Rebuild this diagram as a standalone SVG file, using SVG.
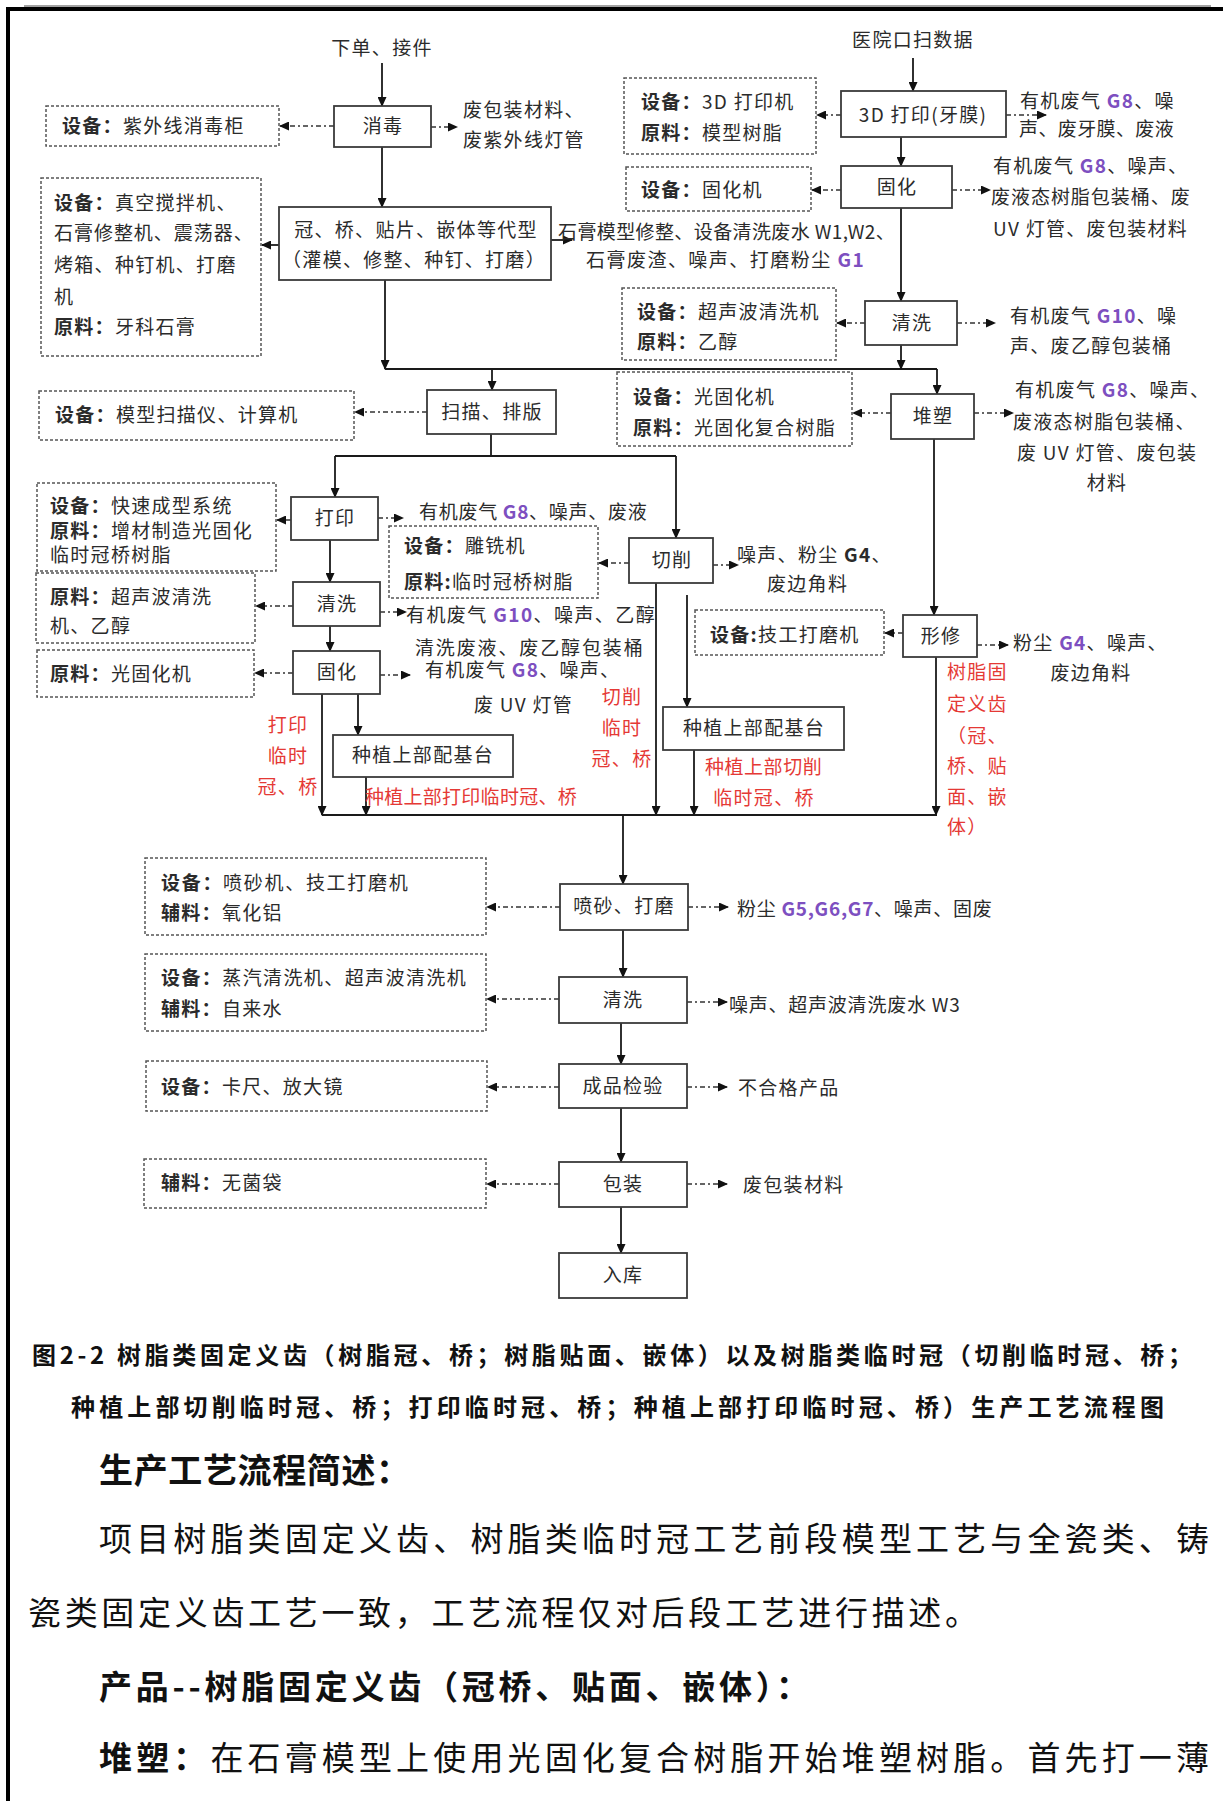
<svg xmlns="http://www.w3.org/2000/svg" width="1223" height="1801" viewBox="0 0 1223 1801">
<style>
.t{font-family:"Noto Sans CJK SC","Noto Sans",sans-serif;font-size:19px;letter-spacing:1.3px;fill:#2b2b2b}
.c{text-anchor:middle}
.b{font-weight:bold}
.r{fill:#e53935}
.p{fill:#7d4fc0;font-weight:bold}
.box{fill:#fff;stroke:#3a3a3a;stroke-width:1.8}
.dbox{fill:none;stroke:#555;stroke-width:1.5;stroke-dasharray:3 2}
.ln{fill:none;stroke:#1a1a1a;stroke-width:1.8}
.ar{fill:none;stroke:#1a1a1a;stroke-width:1.8;marker-end:url(#ah)}
.dd{fill:none;stroke:#333;stroke-width:1.6;stroke-dasharray:5 3 2 3;marker-end:url(#ah)}
.cap{font-family:"Noto Sans CJK SC","Noto Sans",sans-serif;font-weight:bold;fill:#111}
.para{font-family:"Noto Sans CJK SC","Noto Sans",sans-serif;fill:#111}
</style>
<defs>
<marker id="ah" markerWidth="10" markerHeight="9" refX="9" refY="4.5" orient="auto" markerUnits="userSpaceOnUse">
<path d="M0,0 L10,4.5 L0,9 z" fill="#111"/>
</marker>
</defs>
<rect x="0" y="0" width="1223" height="1801" fill="#fff"/>
<!-- page frame -->
<line x1="24" y1="6" x2="1211" y2="6" stroke="#444" stroke-width="1"/>
<rect x="6" y="7" width="1217" height="4" fill="#000"/>
<rect x="6" y="7" width="4" height="1794" fill="#000"/>

<g id="connectors">
<line class="ar" x1="382" y1="63" x2="382" y2="106"/>
<line class="ar" x1="382" y1="147" x2="382" y2="207"/>
<line class="ar" x1="551" y1="240" x2="572" y2="240"/>
<line class="ar" x1="279" y1="245" x2="262" y2="245"/>
<line class="ar" x1="385" y1="280" x2="385" y2="369"/>
<line class="ln" x1="385" y1="369" x2="937" y2="369"/>
<line class="ar" x1="492" y1="369" x2="492" y2="390"/>
<line class="ar" x1="937" y1="369" x2="937" y2="394"/>
<line class="ar" x1="913" y1="58" x2="913" y2="91"/>
<line class="ar" x1="901" y1="137" x2="901" y2="166"/>
<line class="ar" x1="901" y1="208" x2="901" y2="301"/>
<line class="ar" x1="901" y1="345" x2="901" y2="369"/>
<line class="ln" x1="491" y1="434" x2="491" y2="456"/>
<line class="ln" x1="335" y1="456" x2="676" y2="456"/>
<line class="ar" x1="335" y1="456" x2="335" y2="497"/>
<line class="ar" x1="676" y1="456" x2="676" y2="538"/>
<line class="ar" x1="330" y1="540" x2="330" y2="582"/>
<line class="ar" x1="330" y1="626" x2="330" y2="651"/>
<line class="ar" x1="322" y1="694" x2="322" y2="815"/>
<line class="ar" x1="358" y1="694" x2="358" y2="735"/>
<line class="ar" x1="366" y1="777" x2="366" y2="815"/>
<line class="ar" x1="656" y1="583" x2="656" y2="815"/>
<line class="ar" x1="687" y1="595" x2="687" y2="707"/>
<line class="ar" x1="694" y1="750" x2="694" y2="815"/>
<line class="ar" x1="934" y1="439" x2="934" y2="615"/>
<line class="ar" x1="936" y1="657" x2="936" y2="815"/>
<line class="ln" x1="322" y1="815" x2="937" y2="815"/>
<line class="ar" x1="623" y1="815" x2="623" y2="884"/>
<line class="ar" x1="623" y1="930" x2="623" y2="977"/>
<line class="ar" x1="621" y1="1023" x2="621" y2="1064"/>
<line class="ar" x1="621" y1="1108" x2="621" y2="1162"/>
<line class="ar" x1="621" y1="1207" x2="621" y2="1253"/>
<!-- dash-dot side arrows -->
<line class="dd" x1="334" y1="126" x2="280" y2="126"/>
<line class="dd" x1="431" y1="127" x2="457" y2="127"/>
<line class="dd" x1="841" y1="115" x2="817" y2="115"/>
<line class="dd" x1="1006" y1="115" x2="1046" y2="115"/>
<line class="dd" x1="841" y1="190" x2="812" y2="190"/>
<line class="dd" x1="952" y1="190" x2="990" y2="190"/>
<line class="dd" x1="865" y1="323" x2="837" y2="323"/>
<line class="dd" x1="957" y1="323" x2="995" y2="323"/>
<line class="dd" x1="427" y1="412" x2="355" y2="412"/>
<line class="dd" x1="891" y1="413" x2="853" y2="413"/>
<line class="dd" x1="974" y1="413" x2="1013" y2="413"/>
<line class="dd" x1="291" y1="520" x2="277" y2="520"/>
<line class="dd" x1="378" y1="518" x2="403" y2="518"/>
<line class="dd" x1="293" y1="606" x2="256" y2="606"/>
<line class="dd" x1="380" y1="612" x2="406" y2="612"/>
<line class="dd" x1="293" y1="673" x2="255" y2="673"/>
<line class="dd" x1="380" y1="675" x2="410" y2="675"/>
<line class="dd" x1="629" y1="563" x2="599" y2="563"/>
<line class="dd" x1="713" y1="565" x2="738" y2="565"/>
<line class="dd" x1="903" y1="633" x2="885" y2="633"/>
<line class="dd" x1="977" y1="645" x2="1008" y2="645"/>
<line class="dd" x1="560" y1="907" x2="487" y2="907"/>
<line class="dd" x1="688" y1="907" x2="728" y2="907"/>
<line class="dd" x1="559" y1="999" x2="487" y2="999"/>
<line class="dd" x1="687" y1="1002" x2="727" y2="1002"/>
<line class="dd" x1="559" y1="1087" x2="488" y2="1087"/>
<line class="dd" x1="687" y1="1087" x2="727" y2="1087"/>
<line class="dd" x1="559" y1="1184" x2="487" y2="1184"/>
<line class="dd" x1="687" y1="1184" x2="727" y2="1184"/>
</g>

<text class="t c" x="382" y="55">下单、接件</text>
<text class="t c" x="913" y="47">医院口扫数据</text>

<g id="n-xiaodu"><rect class="box" x="334" y="106" width="97" height="41"/><text class="t c" x="383" y="133">消毒</text></g>
<g id="e-xiaodu"><rect class="dbox" x="46" y="106" width="233" height="40"/><text class="t" x="62" y="133"><tspan class="b">设备：</tspan>紫外线消毒柜</text></g>
<g id="w-xiaodu"><text class="t" x="463" y="117">废包装材料、</text><text class="t" x="463" y="147">废紫外线灯管</text></g>

<g id="n-daixing"><rect class="box" x="279" y="207" width="272" height="73"/><text class="t c" x="416" y="237">冠、桥、贴片、嵌体等代型</text><text class="t c" x="414" y="267">（灌模、修整、种钉、打磨）</text></g>
<g id="e-daixing"><rect class="dbox" x="41" y="178" width="220" height="178"/>
<text class="t" x="54" y="210"><tspan class="b">设备：</tspan>真空搅拌机、</text>
<text class="t" x="54" y="240" textLength="200" lengthAdjust="spacing">石膏修整机、震荡器、</text>
<text class="t" x="54" y="272">烤箱、种钉机、打磨</text>
<text class="t" x="54" y="304">机</text>
<text class="t" x="54" y="334"><tspan class="b">原料：</tspan>牙科石膏</text></g>
<g id="w-daixing"><text class="t" x="558" y="239" textLength="338" lengthAdjust="spacing">石膏模型修整、设备清洗废水 W1,W2、</text><text class="t" x="586" y="267" textLength="279" lengthAdjust="spacing">石膏废渣、噪声、打磨粉尘 <tspan class="p">G1</tspan></text></g>

<g id="n-3d"><rect class="box" x="841" y="91" width="165" height="46"/><text class="t c" x="923" y="122">3D 打印(牙膜)</text></g>
<g id="e-3d"><rect class="dbox" x="624" y="78" width="192" height="76"/><text class="t" x="641" y="109"><tspan class="b">设备：</tspan>3D 打印机</text><text class="t" x="641" y="140"><tspan class="b">原料：</tspan>模型树脂</text></g>
<g id="w-3d"><text class="t" x="1020" y="108">有机废气 <tspan class="p">G8</tspan>、噪</text><text class="t" x="1019" y="136" textLength="156" lengthAdjust="spacing">声、废牙膜、废液</text></g>

<g id="n-guhua1"><rect class="box" x="841" y="166" width="111" height="42"/><text class="t c" x="897" y="194">固化</text></g>
<g id="e-guhua1"><rect class="dbox" x="626" y="167" width="185" height="44"/><text class="t" x="641" y="197"><tspan class="b">设备：</tspan>固化机</text></g>
<g id="w-guhua1"><text class="t" x="993" y="173">有机废气 <tspan class="p">G8</tspan>、噪声、</text><text class="t" x="991" y="204" textLength="200" lengthAdjust="spacing">废液态树脂包装桶、废</text><text class="t" x="993" y="236">UV 灯管、废包装材料</text></g>

<g id="n-qingxi1"><rect class="box" x="865" y="301" width="92" height="44"/><text class="t c" x="912" y="330">清洗</text></g>
<g id="e-qingxi1"><rect class="dbox" x="622" y="288" width="214" height="72"/><text class="t" x="637" y="319"><tspan class="b">设备：</tspan>超声波清洗机</text><text class="t" x="637" y="349"><tspan class="b">原料：</tspan>乙醇</text></g>
<g id="w-qingxi1"><text class="t" x="1010" y="323">有机废气 <tspan class="p">G10</tspan>、噪</text><text class="t" x="1010" y="353">声、废乙醇包装桶</text></g>

<g id="n-saomiao"><rect class="box" x="427" y="390" width="129" height="44"/><text class="t c" x="492" y="419">扫描、排版</text></g>
<g id="e-saomiao"><rect class="dbox" x="39" y="391" width="315" height="49"/><text class="t" x="55" y="422"><tspan class="b">设备：</tspan>模型扫描仪、计算机</text></g>

<g id="n-duisu"><rect class="box" x="891" y="394" width="83" height="45"/><text class="t c" x="933" y="423">堆塑</text></g>
<g id="e-duisu"><rect class="dbox" x="617" y="372" width="235" height="74"/><text class="t" x="633" y="404"><tspan class="b">设备：</tspan>光固化机</text><text class="t" x="633" y="435"><tspan class="b">原料：</tspan>光固化复合树脂</text></g>
<g id="w-duisu"><text class="t" x="1015" y="397">有机废气 <tspan class="p">G8</tspan>、噪声、</text><text class="t" x="1013" y="429">废液态树脂包装桶、</text><text class="t" x="1017" y="460">废 UV 灯管、废包装</text><text class="t c" x="1107" y="490">材料</text></g>

<g id="n-dayin"><rect class="box" x="291" y="497" width="87" height="43"/><text class="t c" x="335" y="525">打印</text></g>
<g id="e-dayin"><rect class="dbox" x="37" y="483" width="239" height="88"/><text class="t" x="50" y="513"><tspan class="b">设备：</tspan>快速成型系统</text><text class="t" x="50" y="538"><tspan class="b">原料：</tspan>增材制造光固化</text><text class="t" x="50" y="562">临时冠桥树脂</text></g>
<g id="w-dayin"><text class="t" x="419" y="519" textLength="229" lengthAdjust="spacing">有机废气 <tspan class="p">G8</tspan>、噪声、废液</text></g>

<g id="n-qiexiao"><rect class="box" x="629" y="538" width="84" height="45"/><text class="t c" x="672" y="567">切削</text></g>
<g id="e-qiexiao"><rect class="dbox" x="389" y="526" width="209" height="72"/><text class="t" x="404" y="553"><tspan class="b">设备：</tspan>雕铣机</text><text class="t" x="404" y="589"><tspan class="b">原料:</tspan>临时冠桥树脂</text></g>
<g id="w-qiexiao"><text class="t" x="737" y="562">噪声、粉尘 <tspan class="b">G4</tspan>、</text><text class="t" x="767" y="591">废边角料</text></g>

<g id="n-qingxi2"><rect class="box" x="293" y="582" width="87" height="44"/><text class="t c" x="337" y="611">清洗</text></g>
<g id="e-qingxi2"><rect class="dbox" x="36" y="573" width="219" height="70"/><text class="t" x="50" y="604"><tspan class="b">原料：</tspan>超声波清洗</text><text class="t" x="50" y="633">机、乙醇</text></g>
<g id="w-qingxi2"><text class="t" x="406" y="622" textLength="250" lengthAdjust="spacing">有机废气 <tspan class="p">G10</tspan>、噪声、乙醇</text><text class="t" x="415" y="655" textLength="229" lengthAdjust="spacing">清洗废液、废乙醇包装桶</text></g>

<g id="n-guhua2"><rect class="box" x="293" y="651" width="87" height="43"/><text class="t c" x="337" y="679">固化</text></g>
<g id="e-guhua2"><rect class="dbox" x="37" y="650" width="217" height="47"/><text class="t" x="50" y="681"><tspan class="b">原料：</tspan>光固化机</text></g>
<g id="w-guhua2"><text class="t" x="425" y="677">有机废气 <tspan class="p">G8</tspan>、噪声、</text><text class="t" x="474" y="712">废 UV 灯管</text></g>

<g id="n-xingxiu"><rect class="box" x="903" y="615" width="74" height="42"/><text class="t c" x="941" y="643">形修</text></g>
<g id="e-xingxiu"><rect class="dbox" x="695" y="610" width="189" height="45"/><text class="t" x="710" y="642"><tspan class="b">设备:</tspan>技工打磨机</text></g>
<g id="w-xingxiu"><text class="t" x="1013" y="650">粉尘 <tspan class="p">G4</tspan>、噪声、</text><text class="t c" x="1091" y="680">废边角料</text></g>

<g id="n-zhongzhi1"><rect class="box" x="333" y="735" width="180" height="42"/><text class="t c" x="423" y="762">种植上部配基台</text></g>
<g id="n-zhongzhi2"><rect class="box" x="663" y="707" width="181" height="43"/><text class="t c" x="754" y="735">种植上部配基台</text></g>

<g id="red-labels">
<text class="t c r" x="288" y="732">打印</text>
<text class="t c r" x="288" y="763">临时</text>
<text class="t c r" x="288" y="794">冠、桥</text>
<text class="t r" x="365" y="804" textLength="213" lengthAdjust="spacing">种植上部打印临时冠、桥</text>
<text class="t c r" x="622" y="704">切削</text>
<text class="t c r" x="622" y="735">临时</text>
<text class="t c r" x="622" y="766">冠、桥</text>
<text class="t r" x="705" y="774" textLength="118" lengthAdjust="spacing">种植上部切削</text>
<text class="t c r" x="764" y="805">临时冠、桥</text>
<text class="t r" x="947" y="679">树脂固</text>
<text class="t r" x="947" y="711">定义齿</text>
<text class="t r" x="947" y="743">（冠、</text>
<text class="t r" x="947" y="773">桥、贴</text>
<text class="t r" x="947" y="804">面、嵌</text>
<text class="t r" x="947" y="834">体）</text>
</g>

<g id="n-penzha"><rect class="box" x="560" y="884" width="128" height="46"/><text class="t c" x="624" y="913">喷砂、打磨</text></g>
<g id="e-penzha"><rect class="dbox" x="145" y="858" width="341" height="77"/><text class="t" x="161" y="890" textLength="248" lengthAdjust="spacing"><tspan class="b">设备：</tspan>喷砂机、技工打磨机</text><text class="t" x="161" y="920"><tspan class="b">辅料：</tspan>氧化铝</text></g>
<g id="w-penzha"><text class="t" x="737" y="916" textLength="256" lengthAdjust="spacing">粉尘 <tspan class="p">G5,G6,G7</tspan>、噪声、固废</text></g>

<g id="n-qingxi3"><rect class="box" x="559" y="977" width="128" height="46"/><text class="t c" x="623" y="1007">清洗</text></g>
<g id="e-qingxi3"><rect class="dbox" x="145" y="954" width="341" height="77"/><text class="t" x="161" y="985" textLength="306" lengthAdjust="spacing"><tspan class="b">设备：</tspan>蒸汽清洗机、超声波清洗机</text><text class="t" x="161" y="1016"><tspan class="b">辅料：</tspan>自来水</text></g>
<g id="w-qingxi3"><text class="t" x="729" y="1012" textLength="232" lengthAdjust="spacing">噪声、超声波清洗废水 W3</text></g>

<g id="n-jianyan"><rect class="box" x="559" y="1064" width="128" height="44"/><text class="t c" x="623" y="1093">成品检验</text></g>
<g id="e-jianyan"><rect class="dbox" x="146" y="1061" width="341" height="50"/><text class="t" x="161" y="1094"><tspan class="b">设备：</tspan>卡尺、放大镜</text></g>
<g id="w-jianyan"><text class="t" x="738" y="1095">不合格产品</text></g>

<g id="n-baozhuang"><rect class="box" x="559" y="1162" width="128" height="45"/><text class="t c" x="623" y="1191">包装</text></g>
<g id="e-baozhuang"><rect class="dbox" x="144" y="1159" width="342" height="49"/><text class="t" x="161" y="1190"><tspan class="b">辅料：</tspan>无菌袋</text></g>
<g id="w-baozhuang"><text class="t" x="743" y="1192">废包装材料</text></g>

<g id="n-ruku"><rect class="box" x="559" y="1253" width="128" height="45"/><text class="t c" x="623" y="1282">入库</text></g>

<g id="caption">
<text class="cap" x="32" y="1364" font-size="24" textLength="1160" lengthAdjust="spacing">图2-2  树脂类固定义齿（树脂冠、桥；树脂贴面、嵌体）以及树脂类临时冠（切削临时冠、桥；</text>
<text class="cap" x="71" y="1416" font-size="24" textLength="1093" lengthAdjust="spacing">种植上部切削临时冠、桥；打印临时冠、桥；种植上部打印临时冠、桥）生产工艺流程图</text>
</g>
<g id="body">
<text class="cap" x="99" y="1483" font-size="34" textLength="311" lengthAdjust="spacing">生产工艺流程简述：</text>
<text class="para" x="99" y="1551" font-size="33" textLength="1110" lengthAdjust="spacing">项目树脂类固定义齿、树脂类临时冠工艺前段模型工艺与全瓷类、铸</text>
<text class="para" x="28" y="1625" font-size="33" textLength="950" lengthAdjust="spacing">瓷类固定义齿工艺一致，工艺流程仅对后段工艺进行描述。</text>
<text class="cap" x="99" y="1699" font-size="33" textLength="710" lengthAdjust="spacing">产品--树脂固定义齿（冠桥、贴面、嵌体）：</text>
<text class="para" x="99" y="1770" font-size="33" textLength="1110" lengthAdjust="spacing"><tspan font-weight="bold">堆塑：</tspan>在石膏模型上使用光固化复合树脂开始堆塑树脂。首先打一薄</text>
</g>
</svg>
